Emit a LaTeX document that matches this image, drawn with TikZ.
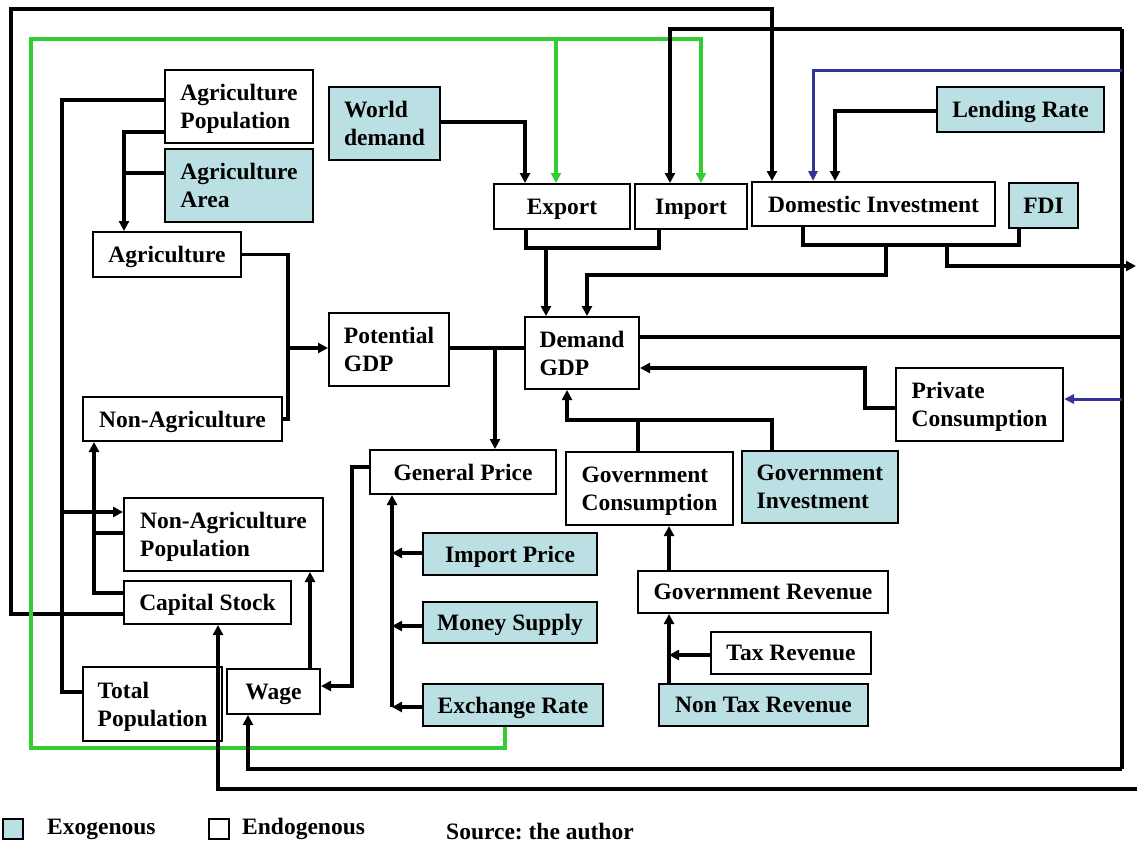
\documentclass[tikz,border=0pt]{standalone}
\usepackage{fontspec}
\setmainfont{Liberation Serif}
\usetikzlibrary{arrows.meta}
\definecolor{exo}{HTML}{BBE0E3}
\definecolor{grn}{HTML}{33CC33}
\definecolor{blu}{HTML}{333399}
\frenchspacing
\begin{document}
\begin{tikzpicture}[x=1pt,y=-1pt,
  font=\fontsize{23.5}{28}\selectfont\bfseries,
  bx/.style 2 args={draw, line width=2pt, minimum width=#1pt, minimum height=#2pt, inner sep=0pt, align=left, text depth=0pt},
  ex/.style={fill=exo},
  ln/.style={line width=3.3pt},
  arr/.style={ln,-{Triangle[length=10pt,width=10pt]}},
  garr/.style={arr,draw=grn},
  barr/.style={line width=3pt,draw=blu,-{Triangle[length=10pt,width=9pt]}}]
\useasboundingbox (0,0) rectangle (1137,846);

% nodes
\node[bx={148}{73}] (agripop) at (239,106.5) {Agriculture\\Population};
\node[bx={148}{73},ex] (agriarea) at (239,185.5) {Agriculture\\Area};
\node[bx={111}{73},ex] (world) at (384.5,123.5) {World\\demand};
\node[bx={148}{45}] (agri) at (167,254.5) {Agriculture};
\node[bx={199}{44}] (nonagri) at (182.5,419) {Non-Agriculture};
\node[bx={120}{73}] (potgdp) at (389,349.5) {Potential\\GDP};
\node[bx={136}{45}] (export) at (562,206.5) {Export};
\node[bx={112}{45}] (import) at (691,206.5) {Import};
\node[bx={243}{44}] (dominv) at (873.5,204) {Domestic Investment};
\node[bx={69}{45},ex] (fdi) at (1043.5,205.5) {FDI};
\node[bx={167}{45},ex] (lending) at (1020.5,109.5) {Lending Rate};
\node[bx={114}{72}] (demgdp) at (582,353) {Demand\\GDP};
\node[bx={167}{73}] (privcons) at (979.5,404.5) {Private\\Consumption};
\node[bx={186}{44}] (genprice) at (463,472) {General Price};
\node[bx={167}{73}] (govcons) at (649.5,488.5) {Government\\Consumption};
\node[bx={156}{72},ex] (govinv) at (820,487) {Government\\Investment};
\node[bx={199}{73}] (nonagripop) at (223.5,534.5) {Non-Agriculture\\Population};
\node[bx={167}{43}] (capstock) at (207.5,602.5) {Capital Stock};
\node[bx={174}{42},ex] (impprice) at (510,554) {Import Price};
\node[bx={174}{41},ex] (money) at (510,622.5) {Money Supply};
\node[bx={180}{42},ex] (exch) at (513,705) {Exchange Rate};
\node[bx={250}{42}] (govrev) at (763,592) {Government Revenue};
\node[bx={160}{42}] (taxrev) at (791,653) {Tax Revenue};
\node[bx={209}{42},ex] (nontax) at (763.5,705) {Non Tax Revenue};
\node[bx={139}{74}] (totpop) at (152.5,704) {Total\\Population};
\node[bx={93}{45}] (wage) at (273.5,691.5) {Wage};

% bus coordinates
\coordinate (busT) at (1122,29);
\coordinate (busB) at (1122,769);
\coordinate (outR) at (1136,266);
\coordinate (outB) at (1137,789);

% outer black loop to Domestic Investment
\draw[arr] ([yshift=-11.5]capstock.west) -| (11,9) -| ([xshift=-101.5]dominv.north);

% green loop from Exchange Rate
\draw[garr] ([xshift=-8]exch.south) |- (31,748) -- (31,39) -| ([xshift=10]import.north);
\draw[garr] (556,39) -- ([xshift=-6]export.north);

% right bus
\draw[ln] (busT) -- (busB);
\draw[ln] ([yshift=16]demgdp.east) -- (1122,337);
\draw[arr] (busT) -| ([xshift=-21]import.north);
\draw[arr] (busB) -| ([xshift=-25.5]wage.south);
\draw[barr] (1122,70) -| ([xshift=-60.5]dominv.north);
\draw[barr] (1122,399) -- ([yshift=5.5]privcons.east);
\draw[arr] (outB) -| ([xshift=10.5]capstock.south);

% lending rate, world demand
\draw[arr] ([yshift=-1.5]lending.west) -| ([xshift=-38.5]dominv.north);
\draw[arr] ([yshift=1.5]world.east) -| ([xshift=-37]export.north);

% export / import to demand GDP
\draw[ln] ([xshift=-36]export.south) |- (659,248) -- ([xshift=-32]import.south);
\draw[arr] (546,248) -- ([xshift=-36]demgdp.north);

% domestic investment / FDI
\draw[ln] ([xshift=-70.5]dominv.south) |- (1019,245) -- ([xshift=-24.5]fdi.south);
\draw[arr] (886,245) |- (587,275) -- ([xshift=5]demgdp.north);
\draw[arr] (947,245) |- (outR);

% agriculture population
\draw[ln] ([yshift=6.5]agripop.west) -| (62,692) -- ([yshift=12]totpop.west);
\draw[arr] (62,512) -- ([yshift=22.5]nonagripop.west);
\draw[arr] ([yshift=-25.5]agripop.west) -| ([xshift=-43]agri.north);
\draw[ln] ([yshift=12.5]agriarea.west) -- (124,173);

% agriculture sectors to potential GDP
\draw[ln] (agri.east) -| (288,419) -- (nonagri.east);
\draw[arr] (288,348) -- ([yshift=1.5]potgdp.west);

% non-agriculture population, capital stock
\draw[ln] ([yshift=1.5]nonagripop.west) -- (94,533);
\draw[arr] ([yshift=9.5]capstock.west) -| ([xshift=-88.5]nonagri.south);
\draw[arr] ([xshift=36.5]wage.north) -- ([xshift=86.5]nonagripop.south);

% general price to wage
\draw[arr] ([yshift=5]genprice.west) -| (352,686) -- ([yshift=5.5]wage.east);

% potential GDP to demand GDP and general price
\draw[ln] ([yshift=1.5]potgdp.east) -- ([yshift=5]demgdp.west);
\draw[arr] (495,348) -- ([xshift=32]genprice.north);

% private consumption
\draw[arr] ([yshift=-3.5]privcons.west) -| (865,368) -- ([yshift=-15]demgdp.east);

% government
\draw[arr] ([xshift=-48]govinv.north) |- (567,420) -- ([xshift=-15]demgdp.south);
\draw[ln] ([xshift=-11.5]govcons.north) -- (638,420);

% prices
\draw[arr] ([yshift=-2]exch.west) -- (392,707);
\draw[arr] (392,707) -- ([xshift=-71]genprice.south);
\draw[arr] ([yshift=1]impprice.west) -- (392,553);
\draw[arr] ([yshift=-3.5]money.west) -- (392,626);

% revenue
\draw[arr] ([xshift=-94]govrev.north) -- ([xshift=19.5]govcons.south);
\draw[arr] ([xshift=-94.5]nontax.north) -- ([xshift=-94]govrev.south);
\draw[arr] ([yshift=-2]taxrev.west) -- (669,655);

% legend
\node[draw,line width=2pt,fill=exo,minimum size=20pt,inner sep=0pt] (legexo) at (13,829) {};
\node[anchor=west,inner sep=0pt] (legexot) at (47,829) {Exogenous};
\node[draw,line width=2pt,minimum size=20pt,inner sep=0pt] (legendo) at (218.5,829) {};
\node[anchor=west,inner sep=0pt] (legendot) at (242,829) {Endogenous};
\node[anchor=west,inner sep=0pt] (source) at (446,832) {Source: the author};
\end{tikzpicture}
\end{document}
